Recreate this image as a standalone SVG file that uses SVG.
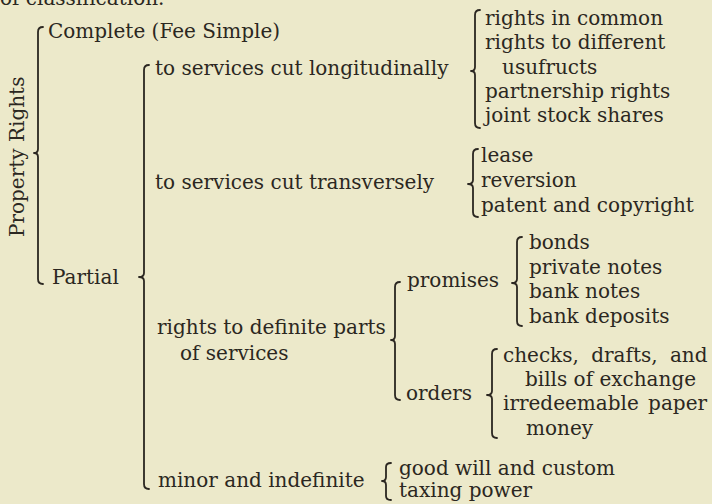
<svg xmlns="http://www.w3.org/2000/svg" width="712" height="504" viewBox="0 0 712 504">
<style>
text{font-family:"DejaVu Serif","Liberation Serif",serif;font-size:20px;fill:#2b2721}
.br{fill:none;stroke:#2b2721;stroke-width:1.8;stroke-linecap:round;stroke-linejoin:round}
</style>
<rect width="712" height="504" fill="#ECE9CA"/>
<g id="caption"><text x="0" y="5">of classification.</text></g>
<g id="connectors">
<path class="br" d="M43,27 Q38,27 38,32 L38,149 Q38,153 34,153 Q38,153 38,157 L38,279 Q38,284 43,284"/>
<path class="br" d="M149,65 Q144,65 144,70 L144,273 Q144,277 139,277 Q144,277 144,281 L144,484 Q144,489 149,489"/>
<path class="br" d="M480,10 Q475,10 475,15 L475,67 Q475,71 471,71 Q475,71 475,75 L475,123 Q475,128 480,128"/>
<path class="br" d="M478,149 Q473,149 473,154 L473,180 Q473,184 468,184 Q473,184 473,188 L473,212 Q473,217 478,217"/>
<path class="br" d="M522,237 Q517,237 517,242 L517,279 Q517,283 512,283 Q517,283 517,287 L517,321 Q517,326 522,326"/>
<path class="br" d="M400,282 Q395,282 395,287 L395,336 Q395,340 391,340 Q395,340 395,344 L395,395 Q395,400 400,400"/>
<path class="br" d="M497,349 Q492,349 492,354 L492,391 Q492,395 487,395 Q492,395 492,399 L492,433 Q492,438 497,438"/>
<path class="br" d="M391,463 Q386,463 386,467 L386,477 Q386,481 382,481 Q386,481 386,485 L386,496 Q386,500 391,500"/>
</g>
<g id="property-rights"><text transform="translate(24,237) rotate(-90)">Property Rights</text></g>
<g id="complete"><text x="48" y="38">Complete (Fee Simple)</text></g>
<g id="partial"><text x="52" y="284">Partial</text></g>
<g id="longitudinal"><text x="155" y="75">to services cut longitudinally</text></g>
<g id="longitudinal-items">
<text x="485" y="25">rights in common</text>
<text x="485" y="49">rights to different</text>
<text x="502" y="74">usufructs</text>
<text x="485" y="98">partnership rights</text>
<text x="485" y="122">joint stock shares</text>
</g>
<g id="transverse"><text x="155" y="189">to services cut transversely</text></g>
<g id="transverse-items">
<text x="481" y="162">lease</text>
<text x="481" y="187">reversion</text>
<text x="481" y="212">patent and copyright</text>
</g>
<g id="definite"><text x="157" y="334">rights to definite parts</text><text x="180" y="360">of services</text></g>
<g id="promises"><text x="407" y="287">promises</text></g>
<g id="promises-items">
<text x="529" y="249">bonds</text>
<text x="529" y="274">private notes</text>
<text x="529" y="298">bank notes</text>
<text x="529" y="323">bank deposits</text>
</g>
<g id="orders"><text x="406" y="400">orders</text></g>
<g id="orders-items">
<text x="503" y="362" word-spacing="6">checks, drafts, and</text>
<text x="525" y="386">bills of exchange</text>
<text x="503" y="410" word-spacing="3">irredeemable paper</text>
<text x="526" y="435">money</text>
</g>
<g id="minor"><text x="158" y="487">minor and indefinite</text></g>
<g id="minor-items">
<text x="399" y="475">good will and custom</text>
<text x="399" y="497">taxing power</text>
</g>
</svg>
